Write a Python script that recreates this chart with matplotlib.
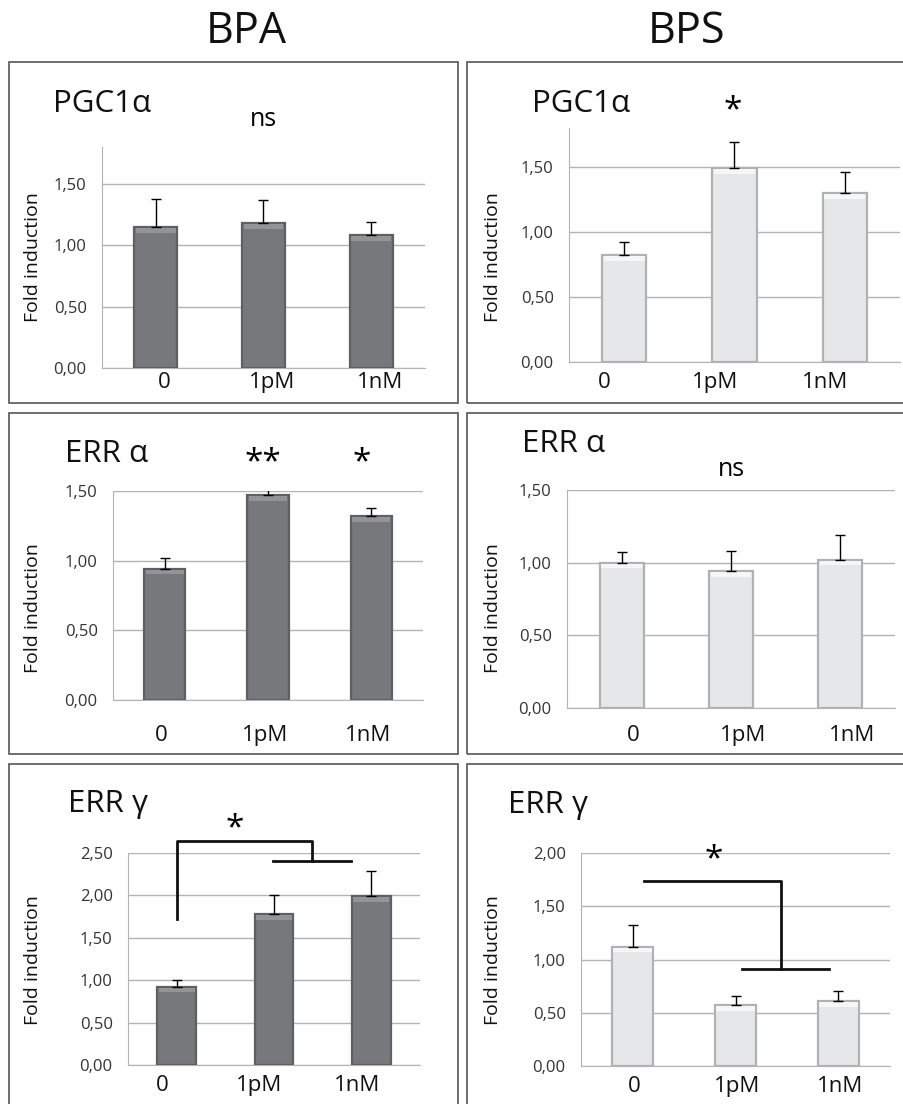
import numpy as np
import matplotlib
matplotlib.use('Agg')
import matplotlib.pyplot as plt
from matplotlib.patches import Rectangle

plt.rcParams['font.family'] = ['Open Sans', 'DejaVu Sans']

doses = ['0', '1pM', '1nM']
y_ticks_label = ['0,00', '0,50', '1,00', '1,50', '2,00', '2,50']

# BPA (left column)
bpa_pgc1a = [1.15, 1.18, 1.08]
bpa_pgc1a_err = [0.23, 0.19, 0.11]
bpa_erra = [0.94, 1.47, 1.32]
bpa_erra_err = [0.08, 0.05, 0.06]
bpa_errg = [0.92, 1.78, 1.99]
bpa_errg_err = [0.08, 0.22, 0.30]

# BPS (right column)
bps_pgc1a = [0.82, 1.49, 1.30]
bps_pgc1a_err = [0.10, 0.20, 0.16]
bps_erra = [1.00, 0.94, 1.02]
bps_erra_err = [0.07, 0.14, 0.17]
bps_errg = [1.12, 0.57, 0.61]
bps_errg_err = [0.20, 0.09, 0.09]

W, H = 904, 1104
fig = plt.figure(figsize=(W / 100, H / 100), dpi=100)


def fx(px):
    return px / W


def fy(py):
    return 1 - py / H


DARK = dict(face='#77787c', edge='#5f6064', top='#939498')
LIGHT = dict(face='#e6e7e9', edge='#b0b1b4', top='#f6f6f7')
GRID = '#b3b3b3'

panels = [
    dict(title='PGC1α', vals=bpa_pgc1a, errs=bpa_pgc1a_err, style=DARK,
         box=(102, 425, 147, 368), ymax=1.8, frame=(9, 62, 458, 403),
         tpos=(53, 112), shift=0.08, xpad=3, ylab=(33, 257)),
    dict(title='PGC1α', vals=bps_pgc1a, errs=bps_pgc1a_err, style=LIGHT,
         box=(569, 900, 128, 362), ymax=1.8, frame=(467, 62, 910, 403),
         tpos=(532, 112), shift=-0.18, xpad=7.5, ylab=(493, 257)),
    dict(title='ERR α', vals=bpa_erra, errs=bpa_erra_err, style=DARK,
         box=(113, 423, 491, 700), ymax=1.5, frame=(9, 413, 458, 754),
         tpos=(65, 462), shift=-0.03, xpad=18, ylab=(33, 608)),
    dict(title='ERR α', vals=bps_erra, errs=bps_erra_err, style=LIGHT,
         box=(567, 895, 490, 708), ymax=1.5, frame=(467, 413, 910, 754),
         tpos=(522, 452), shift=0.11, xpad=12.5, ylab=(493, 608)),
    dict(title='ERR γ', vals=bpa_errg, errs=bpa_errg_err, style=DARK,
         box=(128, 420, 853, 1065), ymax=2.5, frame=(9, 764, 458, 1110),
         tpos=(68, 812), shift=-0.15, xpad=7, ylab=(33, 960)),
    dict(title='ERR γ', vals=bps_errg, errs=bps_errg_err, style=LIGHT,
         box=(581, 890, 853, 1066), ymax=2.0, frame=(467, 764, 910, 1110),
         tpos=(508, 813), shift=0.02, xpad=7, ylab=(493, 960)),
]

axes = []
for p in panels:
    x0, x1, yt, yb = p['box']
    ax = fig.add_axes([fx(x0), fy(yb), fx(x1) - fx(x0), fy(yt) - fy(yb)])
    x = np.arange(len(doses))
    ax.bar(x, p['vals'], width=0.4, color=p['style']['face'],
           edgecolor=p['style']['edge'], linewidth=1.6, zorder=3)
    # light bevel along the top of each bar
    bev = 0.022 * p['ymax']
    ax.bar(x, [bev] * 3, bottom=np.array(p['vals']) - bev - 0.004 * p['ymax'],
           width=0.37, color=p['style']['top'], linewidth=0, zorder=3.5)
    ax.errorbar(x, p['vals'], yerr=[np.zeros(3), p['errs']], fmt='none',
                ecolor='black', elinewidth=1, capsize=3.5, capthick=1, zorder=4)
    ax.set_xlim(-0.5, 2.5)
    ax.set_ylim(0, p['ymax'])
    ticks = np.arange(0, p['ymax'] + 0.01, 0.5)
    ax.set_yticks(ticks)
    ax.set_yticklabels(y_ticks_label[:len(ticks)], fontsize=12, color='#333333')
    ax.set_xticks(x + p['shift'])
    ax.set_xticklabels(doses, fontsize=16, color='#111111')
    ax.tick_params(axis='y', length=0, pad=11)
    ax.tick_params(axis='x', length=0, pad=p['xpad'])
    ax.yaxis.grid(True, color=GRID, linewidth=1, zorder=0)
    ax.set_axisbelow(True)
    for s in ['top', 'right']:
        ax.spines[s].set_visible(False)
    ax.spines['left'].set_color(GRID)
    ax.spines['bottom'].set_color(GRID)
    ax.patch.set_alpha(0)

    fl, ft, fr, fb = p['frame']
    fig.add_artist(Rectangle((fx(fl), fy(fb)), fx(fr) - fx(fl), fy(ft) - fy(fb),
                             transform=fig.transFigure, fill=False,
                             edgecolor='#555555', linewidth=1.2))
    fig.text(fx(p['tpos'][0]), fy(p['tpos'][1]), p['title'], fontsize=22.5,
             ha='left', va='baseline', color='#111111')
    fig.text(fx(p['ylab'][0]), fy(p['ylab'][1]), 'Fold induction', fontsize=14,
             rotation=90, ha='center', va='center', color='#111111')
    axes.append(ax)

fig.text(fx(246), fy(32), 'BPA', fontsize=31, ha='center', va='center', color='#111111')
fig.text(fx(687), fy(32), 'BPS', fontsize=31, ha='center', va='center', color='#111111')

# significance marks
ax = axes[0]
ax.text(1.0, 2.02, 'ns', fontsize=18, ha='center', va='center', clip_on=False)
ax = axes[1]
ax.text(0.98, 1.93, '*', fontsize=24, ha='center', va='center', clip_on=False)
ax = axes[2]
ax.text(0.95, 1.70, '**', fontsize=24, ha='center', va='center', clip_on=False)
ax.text(1.91, 1.70, '*', fontsize=24, ha='center', va='center', clip_on=False)
ax = axes[3]
ax.text(1.0, 1.64, 'ns', fontsize=18, ha='center', va='center', clip_on=False)

ax = axes[4]
ax.plot([0, 0, 1.39, 1.39], [1.72, 2.64, 2.64, 2.41], color='#111111', lw=2,
        clip_on=False, zorder=5)
ax.plot([0.99, 1.79], [2.41, 2.41], color='#111111', lw=2, clip_on=False, zorder=5)
ax.text(0.6, 2.78, '*', fontsize=24, ha='center', va='center', clip_on=False)

ax = axes[5]
ax.plot([0.11, 1.44, 1.44], [1.734, 1.734, 0.91], color='#111111', lw=2,
        clip_on=False, zorder=5)
ax.plot([1.06, 1.91], [0.91, 0.91], color='#111111', lw=2, clip_on=False, zorder=5)
ax.text(0.79, 1.94, '*', fontsize=24, ha='center', va='center', clip_on=False)

fig.savefig('out.png', dpi=100)
